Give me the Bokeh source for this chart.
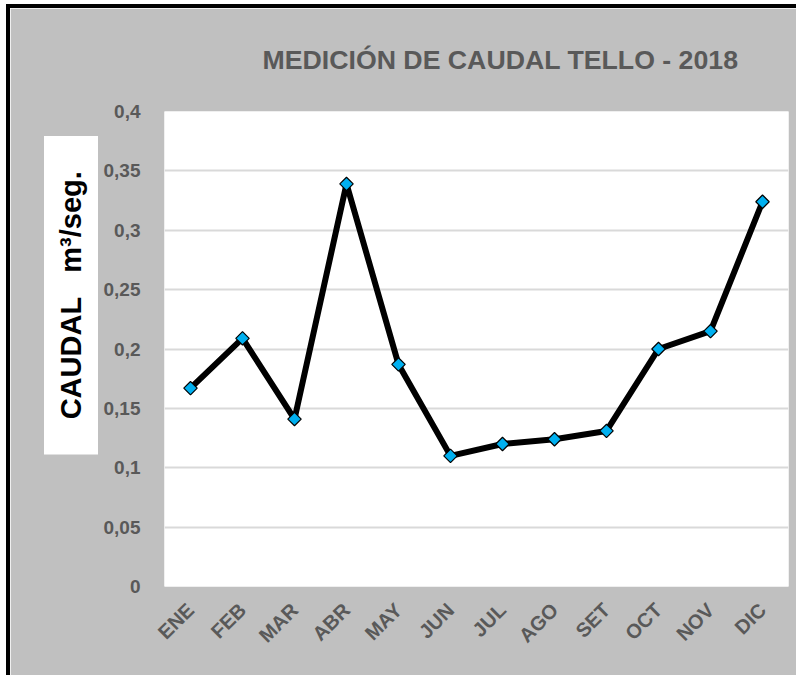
import math
from bokeh.plotting import figure
from bokeh.models import FactorRange, Range1d, FixedTicker, CustomJSTickFormatter, Title, ColumnDataSource
from bokeh.embed import file_html
from bokeh.resources import INLINE

months = ["ENE", "FEB", "MAR", "ABR", "MAY", "JUN", "JUL", "AGO", "SET", "OCT", "NOV", "DIC"]
caudal = [0.167, 0.209, 0.141, 0.339, 0.187, 0.110, 0.120, 0.124, 0.131, 0.200, 0.215, 0.324]
y_ticks = [0, 0.05, 0.1, 0.15, 0.2, 0.25, 0.3, 0.35, 0.4]
title_text = "MEDICIÓN DE CAUDAL TELLO - 2018"
y_label_text = "\u00a0\u00a0\u00a0CAUDAL\u00a0\u00a0\u00a0m³/seg.\u00a0\u00a0\u00a0"

FONT = "Liberation Sans"
GRAY_TXT = "#595959"
BG = "#c0c0c0"

src = ColumnDataSource(dict(m=months, v=caudal))

p = figure(x_range=FactorRange(*months), y_range=Range1d(0, 0.4),
           width=790, height=671, output_backend="svg", toolbar_location=None,
           min_border_left=154, min_border_right=12, min_border_top=103, min_border_bottom=93)
p.styles = {"margin-left": "6px", "margin-top": "4px",
            "border-left": "4px solid black", "border-top": "4px solid black"}
p.background_fill_color = "white"
p.border_fill_color = BG
p.outline_line_color = None

p.line("m", "v", source=src, line_color="black", line_width=6, line_join="round")
p.scatter("m", "v", source=src, marker="square", angle=math.pi / 4, size=9.5,
          fill_color="#00b0f0", line_color="black", line_width=1.2)

p.yaxis.ticker = FixedTicker(ticks=y_ticks)
p.yaxis.formatter = CustomJSTickFormatter(code="return (Math.round(tick*100)/100).toString().replace('.', ',');")
for ax in (p.xaxis[0], p.yaxis[0]):
    ax.axis_line_color = None
    ax.major_tick_line_color = None
    ax.minor_tick_line_color = None
    ax.major_label_text_font = FONT
    ax.major_label_text_font_style = "bold"
    ax.major_label_text_color = GRAY_TXT
p.yaxis.major_label_text_font_size = "19px"
p.xaxis.major_label_text_font_size = "20px"
p.yaxis.major_label_standoff = 18
p.xaxis.major_label_standoff = 14
p.xaxis.major_label_orientation = math.pi / 4

p.ygrid.grid_line_color = "#d9d9d9"
p.ygrid.grid_line_width = 2
p.xgrid.grid_line_color = None

p.title.text = title_text
p.title.align = "left"
p.title.vertical_align = "top"
p.title.offset = 98
p.title.standoff = 70
p.title.text_font = FONT
p.title.text_font_style = "bold"
p.title.text_font_size = "26.7px"
p.title.text_color = GRAY_TXT

ylab = Title(text=y_label_text, align="left", offset=132, standoff=5,
             text_font=FONT, text_font_style="bold", text_font_size="29px",
             text_color="black", background_fill_color="white", padding=11)
p.add_layout(ylab, "left")

open("out.html", "w").write(file_html(p, INLINE))
